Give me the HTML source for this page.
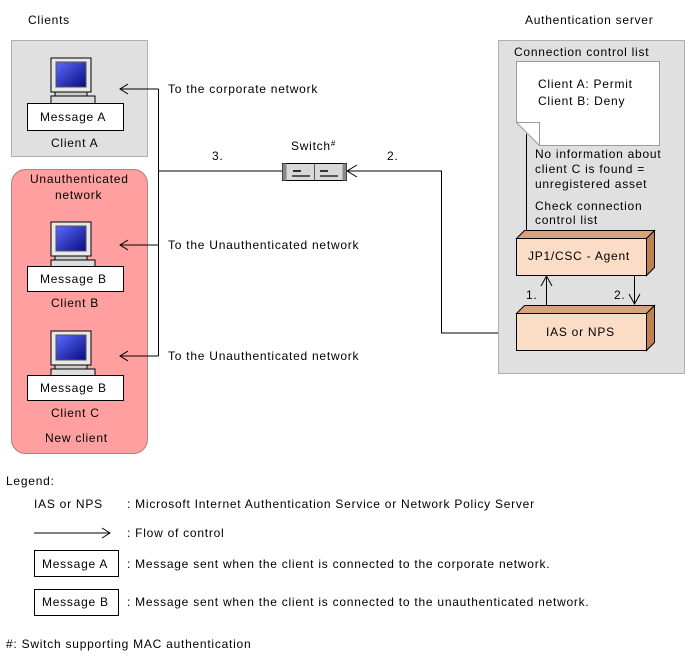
<!DOCTYPE html>
<html><head><meta charset="utf-8"><style>
body{margin:0;background:#fff;}
svg text{font-family:"Liberation Sans",sans-serif;font-size:12px;fill:#000;letter-spacing:0.75px;}
</style></head><body>
<svg width="688" height="661" xmlns="http://www.w3.org/2000/svg">
<defs>
<linearGradient id="scr" x1="0" y1="0" x2="1" y2="1"><stop offset="0" stop-color="#5a6cff"/><stop offset="1" stop-color="#0a0a80"/></linearGradient>
<g id="pc">
<rect x="0" y="0" width="40" height="34" fill="#e8e8e8" stroke="#000"/>
<rect x="5" y="4" width="30" height="25" fill="url(#scr)" stroke="#555"/>
<rect x="4" y="34" width="32" height="4" fill="#ccc" stroke="#000"/>
<rect x="0" y="38" width="44" height="10" fill="#ddd" stroke="#000"/>
</g>
</defs>
<text x="28" y="24">Clients</text>
<text x="525" y="24">Authentication server</text>
<rect x="11.5" y="40.5" width="136" height="116" fill="#e0e0e0" stroke="#b0b0b0"/>
<use href="#pc" x="51" y="58"/>
<rect x="27.5" y="103.5" width="96" height="27" fill="#fff" stroke="#000"/>
<text x="40" y="121">Message A</text>
<text x="51" y="147">Client  A</text>
<rect x="11.5" y="169.5" width="136" height="284" rx="14" fill="#ff9f9f" stroke="#b08080"/>
<text x="30" y="183">Unauthenticated</text>
<text x="55" y="199">network</text>
<use href="#pc" x="51" y="222"/>
<rect x="27.5" y="266.5" width="96" height="25" fill="#fff" stroke="#000"/>
<text x="40" y="283">Message B</text>
<text x="51" y="307">Client  B</text>
<use href="#pc" x="51" y="331"/>
<rect x="27.5" y="375.5" width="96" height="25" fill="#fff" stroke="#000"/>
<text x="40" y="392">Message B</text>
<text x="51" y="417">Client  C</text>
<text x="45" y="442">New client</text>
<g stroke="#000" fill="none">
<path d="M158.5 89V356M120 89H158.5M120 245H158.5M120 356H158.5M158.5 171H282"/>
<path d="M128 84L120 89L128 94M128 240L120 245L128 250M128 351L120 356L128 361"/>
<path d="M347 171H441.5V333H516"/>
<path d="M357 165L347 171L357 177"/>
</g>
<text x="168" y="93">To the corporate network</text>
<text x="168" y="249">To the Unauthenticated network</text>
<text x="168" y="360">To the Unauthenticated network</text>
<text x="212" y="160">3.</text>
<text x="387" y="160">2.</text>
<text x="291" y="150">Switch<tspan font-size="8" dy="-4">#</tspan></text>
<rect x="282.5" y="163.5" width="64" height="17" fill="#d8d8d8" stroke="#000"/>
<rect x="282.5" y="163.5" width="4" height="17" fill="#888"/>
<rect x="342.5" y="163.5" width="4" height="17" fill="#888"/>
<line x1="314.5" y1="164" x2="314.5" y2="180" stroke="#555"/>
<rect x="293" y="170" width="8" height="2" fill="#333"/><rect x="320" y="170" width="8" height="2" fill="#333"/>
<rect x="292" y="175" width="18" height="2" fill="#555"/><rect x="320" y="175" width="18" height="2" fill="#555"/>
<rect x="498.5" y="40.5" width="186" height="333" fill="#e0e0e0" stroke="#b0b0b0"/>
<text x="514" y="56">Connection control list</text>
<path d="M516.5 61.5H659.5V145.5H539.5L516.5 122.5Z" fill="#fff" stroke="#999"/>
<path d="M516.5 122.5H539.5V145.5" fill="none" stroke="#999"/>
<text x="538" y="88">Client A: Permit</text>
<text x="538" y="105">Client B: Deny</text>
<line x1="526.5" y1="134" x2="526.5" y2="230" stroke="#000"/>
<text x="535" y="158">No information about</text>
<text x="535" y="173">client C is found =</text>
<text x="535" y="188">unregistered asset</text>
<text x="535" y="210">Check connection</text>
<text x="535" y="224">control list</text>
<g stroke="#000">
<path d="M516.5 238.5L524.5 230.5H654.5L646.5 238.5Z" fill="#d9a27a"/>
<path d="M646.5 238.5L654.5 230.5V267.5L646.5 275.5Z" fill="#c08050"/>
<rect x="516.5" y="238.5" width="130" height="37" fill="#fbdcc6"/>
<path d="M516.5 313.5L524.5 305.5H654.5L646.5 313.5Z" fill="#d9a27a"/>
<path d="M646.5 313.5L654.5 305.5V342.5L646.5 350.5Z" fill="#c08050"/>
<rect x="516.5" y="313.5" width="130" height="37" fill="#fbdcc6"/>
<path d="M546.5 306V276M541 286L546.5 276L552 286M634.5 276V304M629 294L634.5 304L640 294" fill="none"/>
</g>
<text x="528" y="260">JP1/CSC - Agent</text>
<text x="546" y="336">IAS or NPS</text>
<text x="526" y="299">1.</text>
<text x="614" y="299">2.</text>
<text x="6" y="485">Legend:</text>
<text x="34" y="508">IAS or NPS</text>
<text x="127" y="508">: Microsoft Internet Authentication Service or Network Policy Server</text>
<g stroke="#000" fill="none"><path d="M34 533H110M102 528L110 533L102 538"/></g>
<text x="127" y="537">: Flow of control</text>
<rect x="34.5" y="550.5" width="84" height="26" fill="#fff" stroke="#000"/>
<text x="42" y="568">Message A</text>
<text x="127" y="568">: Message sent when the client is connected to the corporate network.</text>
<rect x="34.5" y="589.5" width="84" height="26" fill="#fff" stroke="#000"/>
<text x="42" y="606">Message B</text>
<text x="127" y="606">: Message sent when the client is connected to the unauthenticated network.</text>
<text x="6" y="648">#:  Switch supporting MAC authentication</text>
</svg>
</body></html>
